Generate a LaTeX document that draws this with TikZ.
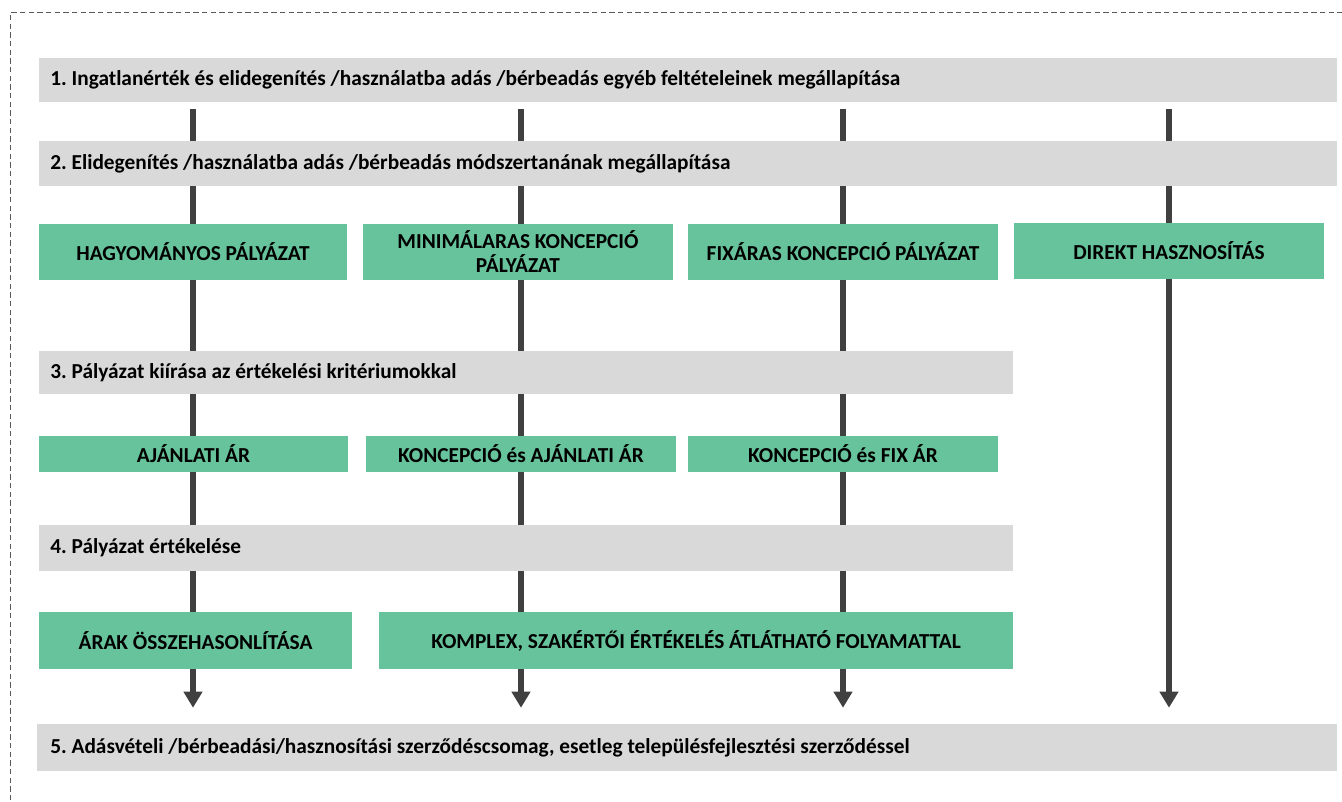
\documentclass[tikz,border=0pt]{standalone}
\usepackage{fontspec}
\setmainfont{Carlito}
\usetikzlibrary{arrows.meta,backgrounds}
\definecolor{barGray}{HTML}{D9D9D9}
\definecolor{boxGreen}{RGB}{102,195,155}
\definecolor{arrowGray}{HTML}{404040}
\definecolor{frameGray}{HTML}{595959}
\frenchspacing

\begin{document}
\begin{tikzpicture}[x=0.75pt,y=-0.75pt,
        every node/.style={font=\bfseries\fontsize{16}{18}\selectfont, inner sep=0pt},
        bar/.style={fill=barGray, anchor=west, align=flush left, text width=#1, inner xsep=8.25pt, minimum height=33pt},
        box/.style={fill=boxGreen, align=center, minimum width=#1, minimum height=42pt},
        flow/.style={draw=arrowGray, line width=4.5pt, -{Triangle[width=13.5pt,length=12pt]}, shorten <=5.25pt, shorten >=12pt},
        frame/.style={draw=frameGray, line width=0.75pt, dash pattern=on 4pt off 2.5pt}]
        \useasboundingbox (0,0) rectangle (1342,802);
        \draw[frame] (1360,13) -| (10,820);
        \node[bar=957pt] (b1) at (39,80) {1. Ingatlanérték és elidegenítés /használatba adás /bérbeadás egyéb feltételeinek megállapítása};
        \node[bar=957pt, minimum height=33.75pt] (b2) at (39,163.5) {2. Elidegenítés /használatba adás /bérbeadás módszertanának megállapítása};
        \node[box=231pt] (g1) at (193,252) {HAGYOMÁNYOS PÁLYÁZAT};
        \node[box=232.5pt] (g2) at (518,252) {MINIMÁLARAS KONCEPCIÓ\\PÁLYÁZAT};
        \node[box=232.5pt] (g3) at (843,252) {FIXÁRAS KONCEPCIÓ PÁLYÁZAT};
        \node[box=232.5pt] (g4) at (1169,251) {DIREKT HASZNOSÍTÁS};
        \node[bar=714pt, minimum height=32.25pt] (b3) at (39,372.5) {3. Pályázat kiírása az értékelési kritériumokkal};
        \node[box=231.75pt, minimum height=27pt] (a1) at (193.5,454) {AJÁNLATI ÁR};
        \node[box=232.5pt, minimum height=27pt] (a2) at (521,454) {KONCEPCIÓ és AJÁNLATI ÁR};
        \node[box=232.5pt, minimum height=27pt] (a3) at (843,454) {KONCEPCIÓ és FIX ÁR};
        \node[bar=714pt, minimum height=34.5pt] (b4) at (39,548) {4. Pályázat értékelése};
        \node[box=234.75pt, minimum height=42.75pt] (e1) at (195.5,640.5) {ÁRAK ÖSSZEHASONLÍTÁSA};
        \node[box=475.5pt, minimum height=42.75pt] (e2) at (696,640.5) {KOMPLEX, SZAKÉRTŐI ÉRTÉKELÉS ÁTLÁTHATÓ FOLYAMATTAL};
        \node[bar=955.5pt, minimum height=35.25pt, inner xsep=9.75pt] (b5) at (37,747.5) {5. Adásvételi /bérbeadási/hasznosítási szerződéscsomag, esetleg településfejlesztési szerződéssel};
        \begin{scope}[on background layer]
            \foreach \col in {g1,a2,g3,g4}
                \draw[flow] (b1.south -| \col) -- (b5.north -| \col);
        \end{scope}
    \end{tikzpicture}
\end{document}
